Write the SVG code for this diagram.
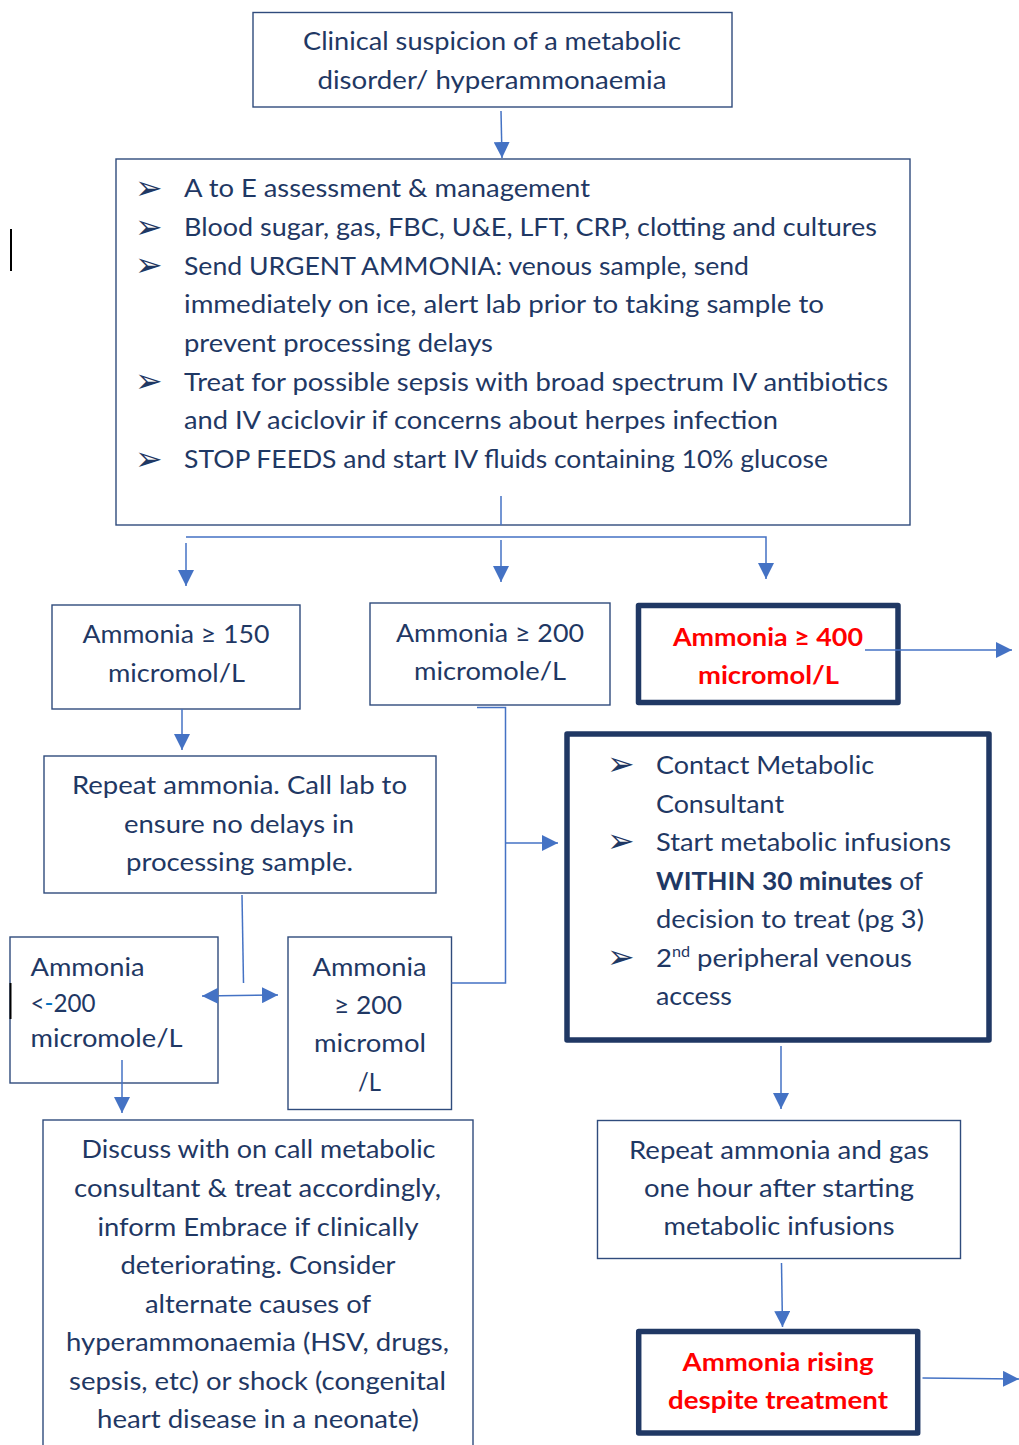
<svg xmlns="http://www.w3.org/2000/svg" width="1019" height="1445" viewBox="0 0 1019 1445">
<defs>
<style>
.bx{fill:#fff;stroke:#2F4B7C;stroke-width:1.4}
.tk{fill:#fff;stroke:#203864;stroke-width:5.5;stroke-linejoin:round}
.t{font-family:Lato,"Noto Sans","Liberation Sans",sans-serif;font-size:25.5px;fill:#1F3864}
.c{text-anchor:middle}
.r{font-family:Lato,"Noto Sans","Liberation Sans",sans-serif;font-size:25.5px;font-weight:bold;fill:#FF0000;text-anchor:middle}
.bl{font-family:"DejaVu Sans",sans-serif;font-size:33px;fill:#1F3864}
.cn{fill:none;stroke:#4472C4;stroke-width:1.5}
.cur{stroke:#000;stroke-width:2}
</style>
<marker id="ah" markerUnits="userSpaceOnUse" markerWidth="16" markerHeight="16" viewBox="0 0 16 16" refX="16" refY="8" orient="auto-start-reverse">
<path d="M0,0 L16,8 L0,16 z" fill="#4472C4"/>
</marker>
</defs>
<rect width="1019" height="1445" fill="#fff"/>

<g id="n-start">
<rect class="bx" x="253" y="12.5" width="479" height="94.5"/>
<text class="t c" x="492" y="50" textLength="378" lengthAdjust="spacingAndGlyphs">Clinical suspicion of a metabolic</text>
<text class="t c" x="492" y="89" textLength="349" lengthAdjust="spacingAndGlyphs">disorder/ hyperammonaemia</text>
</g>

<g id="n-assess">
<rect class="bx" x="116" y="159" width="794" height="366"/>
<text class="bl" x="135" y="199">➢</text>
<text class="bl" x="135" y="238">➢</text>
<text class="bl" x="135" y="276">➢</text>
<text class="bl" x="135" y="392">➢</text>
<text class="bl" x="135" y="470">➢</text>
<text class="t" x="184" y="197" textLength="406" lengthAdjust="spacingAndGlyphs">A to E assessment &amp; management</text>
<text class="t" x="184" y="236" textLength="693" lengthAdjust="spacingAndGlyphs">Blood sugar, gas, FBC, U&amp;E, LFT, CRP, clotting and cultures</text>
<text class="t" x="184" y="274.5" textLength="565" lengthAdjust="spacingAndGlyphs">Send URGENT AMMONIA: venous sample, send</text>
<text class="t" x="184" y="313" textLength="640" lengthAdjust="spacingAndGlyphs">immediately on ice, alert lab prior to taking sample to</text>
<text class="t" x="184" y="352" textLength="309" lengthAdjust="spacingAndGlyphs">prevent processing delays</text>
<text class="t" x="184" y="390.5" textLength="704" lengthAdjust="spacingAndGlyphs">Treat for possible sepsis with broad spectrum IV antibiotics</text>
<text class="t" x="184" y="429" textLength="594" lengthAdjust="spacingAndGlyphs">and IV aciclovir if concerns about herpes infection</text>
<text class="t" x="184" y="468" textLength="644" lengthAdjust="spacingAndGlyphs">STOP FEEDS and start IV fluids containing 10% glucose</text>
</g>

<g id="n-150">
<rect class="bx" x="52" y="605" width="248" height="104"/>
<text class="t c" x="176" y="643" textLength="187" lengthAdjust="spacingAndGlyphs">Ammonia ≥ 150</text>
<text class="t c" x="176.5" y="681.5" textLength="137" lengthAdjust="spacingAndGlyphs">micromol/L</text>
</g>

<g id="n-200">
<rect class="bx" x="370" y="603" width="240" height="102"/>
<text class="t c" x="490" y="641.5" textLength="188" lengthAdjust="spacingAndGlyphs">Ammonia ≥ 200</text>
<text class="t c" x="490" y="680" textLength="152" lengthAdjust="spacingAndGlyphs">micromole/L</text>
</g>

<g id="n-400">
<rect class="tk" x="638.5" y="605.5" width="259.5" height="97"/>
<text class="r" x="768" y="646" textLength="190" lengthAdjust="spacingAndGlyphs">Ammonia ≥ 400</text>
<text class="r" x="768.5" y="684" textLength="141" lengthAdjust="spacingAndGlyphs">micromol/L</text>
</g>

<g id="n-repeat">
<rect class="bx" x="44" y="756" width="392" height="137"/>
<text class="t c" x="239.5" y="794" textLength="335" lengthAdjust="spacingAndGlyphs">Repeat ammonia. Call lab to</text>
<text class="t c" x="239" y="833" textLength="230" lengthAdjust="spacingAndGlyphs">ensure no delays in</text>
<text class="t c" x="239.5" y="871" textLength="227" lengthAdjust="spacingAndGlyphs">processing sample.</text>
</g>

<g id="n-contact">
<rect class="tk" x="567" y="734" width="422" height="306"/>
<text class="bl" x="607" y="775">➢</text>
<text class="bl" x="607" y="852">➢</text>
<text class="bl" x="607" y="968">➢</text>
<text class="t" x="656" y="773.5" textLength="218" lengthAdjust="spacingAndGlyphs">Contact Metabolic</text>
<text class="t" x="656" y="812.5" textLength="128" lengthAdjust="spacingAndGlyphs">Consultant</text>
<text class="t" x="656" y="851" textLength="295" lengthAdjust="spacingAndGlyphs">Start metabolic infusions</text>
<text class="t" x="656" y="889.5" textLength="267" lengthAdjust="spacingAndGlyphs"><tspan font-weight="bold">WITHIN 30 minutes</tspan> of</text>
<text class="t" x="656" y="928" textLength="268" lengthAdjust="spacingAndGlyphs">decision to treat (pg 3)</text>
<text class="t" x="656" y="966.5" textLength="256" lengthAdjust="spacingAndGlyphs">2<tspan font-size="15px" dy="-10">nd</tspan><tspan dy="10"> peripheral venous</tspan></text>
<text class="t" x="656" y="1005" textLength="76" lengthAdjust="spacingAndGlyphs">access</text>
</g>

<g id="n-lt200">
<rect class="bx" x="10" y="937" width="208" height="146"/>
<text class="t" x="30.5" y="976" textLength="114" lengthAdjust="spacingAndGlyphs">Ammonia</text>
<text class="t" x="30.5" y="1011.5" textLength="65" lengthAdjust="spacingAndGlyphs">&lt;<tspan fill="#0070C0">-</tspan>200</text>
<text class="t" x="30.5" y="1047" textLength="152" lengthAdjust="spacingAndGlyphs">micromole/L</text>
</g>

<g id="n-ge200">
<rect class="bx" x="288" y="937" width="163.5" height="172.5"/>
<text class="t c" x="369.5" y="976" textLength="114" lengthAdjust="spacingAndGlyphs">Ammonia</text>
<text class="t c" x="368" y="1013.5" textLength="68" lengthAdjust="spacingAndGlyphs">≥ 200</text>
<text class="t c" x="370" y="1052" textLength="112" lengthAdjust="spacingAndGlyphs">micromol</text>
<text class="t c" x="369.5" y="1091" textLength="23" lengthAdjust="spacingAndGlyphs" fill="#000">/L</text>
</g>

<g id="n-discuss">
<rect class="bx" x="43" y="1120" width="430" height="340"/>
<text class="t c" x="258.5" y="1158" textLength="354" lengthAdjust="spacingAndGlyphs">Discuss with on call metabolic</text>
<text class="t c" x="257.5" y="1197" textLength="367" lengthAdjust="spacingAndGlyphs">consultant &amp; treat accordingly,</text>
<text class="t c" x="258" y="1235.5" textLength="321" lengthAdjust="spacingAndGlyphs">inform Embrace if clinically</text>
<text class="t c" x="258" y="1274" textLength="275" lengthAdjust="spacingAndGlyphs">deteriorating. Consider</text>
<text class="t c" x="258" y="1312.5" textLength="226" lengthAdjust="spacingAndGlyphs">alternate causes of</text>
<text class="t c" x="257.5" y="1351" textLength="383" lengthAdjust="spacingAndGlyphs">hyperammonaemia (HSV, drugs,</text>
<text class="t c" x="257.5" y="1389.5" textLength="377" lengthAdjust="spacingAndGlyphs">sepsis, etc) or shock (congenital</text>
<text class="t c" x="258" y="1428" textLength="322" lengthAdjust="spacingAndGlyphs">heart disease in a neonate)</text>
</g>

<g id="n-repeatgas">
<rect class="bx" x="597.5" y="1120.5" width="363" height="138"/>
<text class="t c" x="779" y="1158.5" textLength="300" lengthAdjust="spacingAndGlyphs">Repeat ammonia and gas</text>
<text class="t c" x="779" y="1197" textLength="270" lengthAdjust="spacingAndGlyphs">one hour after starting</text>
<text class="t c" x="779" y="1235" textLength="231" lengthAdjust="spacingAndGlyphs">metabolic infusions</text>
</g>

<g id="n-rising">
<rect class="tk" x="638.7" y="1331.5" width="279" height="101.5"/>
<text class="r" x="778" y="1371" textLength="191" lengthAdjust="spacingAndGlyphs">Ammonia rising</text>
<text class="r" x="778" y="1408.5" textLength="220" lengthAdjust="spacingAndGlyphs">despite treatment</text>
</g>

<g id="connectors">
<path class="cn" d="M501,111 L502,158" marker-end="url(#ah)"/>
<path class="cn" d="M501,496 L501,525"/>
<path class="cn" d="M186,537 L766,537 L766,579" marker-end="url(#ah)"/>
<path class="cn" d="M186,543 L186,586" marker-end="url(#ah)"/>
<path class="cn" d="M501,540 L501,582" marker-end="url(#ah)"/>
<path class="cn" d="M865,650 L1012,650" marker-end="url(#ah)"/>
<path class="cn" d="M182,709 L182,750" marker-end="url(#ah)"/>
<path class="cn" d="M477,707.5 L505.5,707.5 L505.5,983 L451.5,983"/>
<path class="cn" d="M505.5,843 L558,843" marker-end="url(#ah)"/>
<path class="cn" d="M242,895 L243.5,983"/>
<path class="cn" d="M202,996 L278,995" marker-start="url(#ah)" marker-end="url(#ah)"/>
<path class="cn" d="M122,1060 L122,1113" marker-end="url(#ah)"/>
<path class="cn" d="M781,1046 L781,1109" marker-end="url(#ah)"/>
<path class="cn" d="M781.5,1263 L782.5,1327" marker-end="url(#ah)"/>
<path class="cn" d="M922.5,1378 L1019,1379" marker-end="url(#ah)"/>
</g>

<line class="cur" x1="11" y1="229" x2="11" y2="271"/>
<line class="cur" x1="10.5" y1="983" x2="10.5" y2="1019"/>
</svg>
